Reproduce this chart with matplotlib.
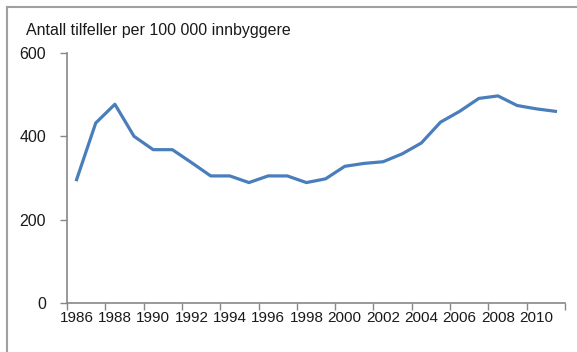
import matplotlib
matplotlib.use("Agg")
import matplotlib.pyplot as plt
from matplotlib.lines import Line2D

plt.rcParams['font.family'] = ['Liberation Sans', 'DejaVu Sans']

# Data
years = list(range(1986, 2012))
cases = [296, 432, 477, 400, 368, 368, 337, 305, 305, 289, 305, 305, 289, 298,
         328, 335, 339, 358, 384, 434, 460, 491, 497, 474, 466, 460]
tick_labels = [str(y) for y in range(1986, 2011, 2)]
title = "Antall tilfeller per 100 000 innbyggere"

fig = plt.figure(figsize=(5.77, 3.52), dpi=100)
ax = fig.add_axes([67 / 577, 1 - 303 / 352, (565 - 67) / 577, 250 / 352])

ax.plot(years, cases, color='#4A7EBB', linewidth=2.3, solid_joinstyle='round')

axis_grey = '#888888'
text_col = '#1a1a1a'
ax.set_xlim(1985.5, 2011.5)
ax.set_ylim(0, 600)
ax.set_yticks([0, 200, 400, 600])

# tick marks between categories, labels on every other year
ax.set_xticks([y + 0.5 for y in range(1985, 2012, 2)])
ax.set_xticklabels([])
ax.set_xticks(range(1986, 2011, 2), minor=True)
ax.set_xticklabels(tick_labels, minor=True)
ax.tick_params(axis='x', which='minor', length=0, pad=6, labelsize=11, labelcolor=text_col)
ax.tick_params(axis='x', which='major', length=5, width=1, color=axis_grey, direction='out')
ax.tick_params(axis='y', length=5, width=1, color=axis_grey, pad=10, labelsize=11.5,
               labelcolor=text_col)

for side in ['top', 'right']:
    ax.spines[side].set_visible(False)
for side in ['left', 'bottom']:
    ax.spines[side].set_color(axis_grey)
    ax.spines[side].set_linewidth(1.2)

fig.text(26 / 577, 1 - 31 / 352, title, fontsize=11.5, color=text_col, va='center', ha='left')

# outer frame (top and left edges)
fig.add_artist(Line2D([7 / 577, 1], [1 - 7 / 352, 1 - 7 / 352], transform=fig.transFigure,
                      color='#a0a0a0', linewidth=1.5))
fig.add_artist(Line2D([7 / 577, 7 / 577], [0, 1 - 7 / 352], transform=fig.transFigure,
                      color='#a0a0a0', linewidth=1.5))

fig.savefig("out.png", dpi=100)
